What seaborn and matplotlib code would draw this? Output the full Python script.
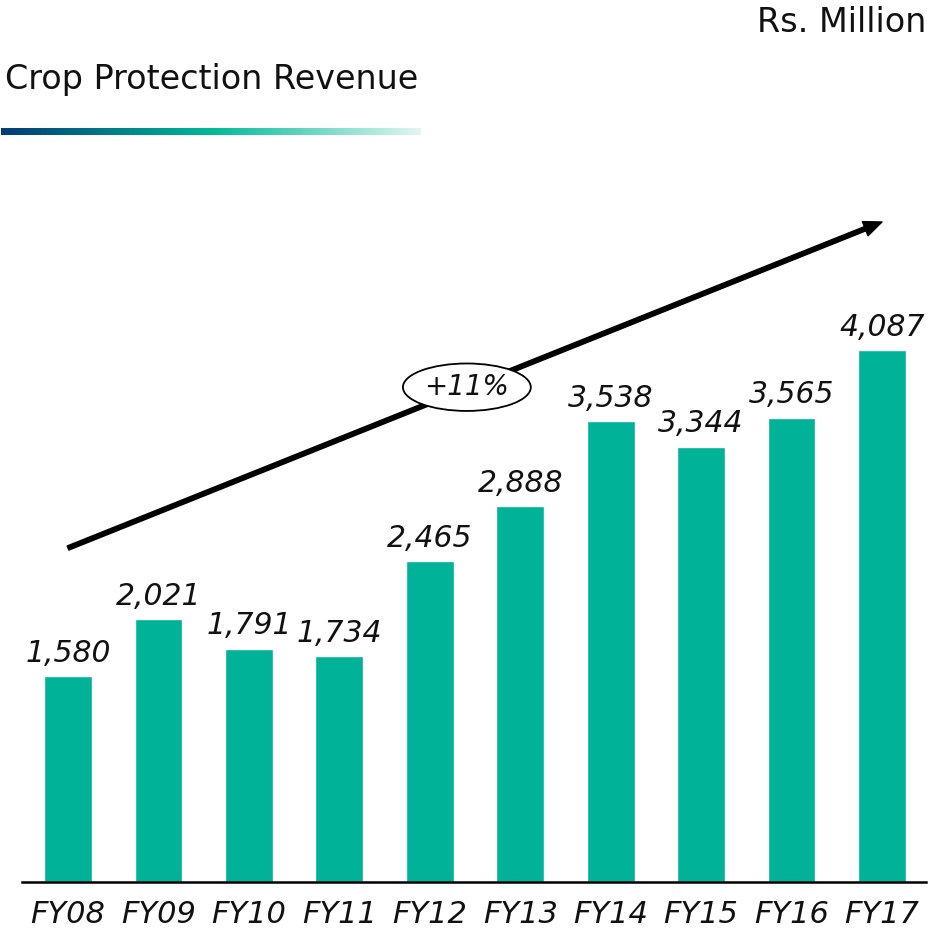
import numpy as np
import pandas as pd
import matplotlib
matplotlib.use("Agg")
import matplotlib.pyplot as plt
import seaborn as sns
from matplotlib.colors import LinearSegmentedColormap

years = ["FY08", "FY09", "FY10", "FY11", "FY12", "FY13", "FY14", "FY15", "FY16", "FY17"]
revenue = [1580, 2021, 1791, 1734, 2465, 2888, 3538, 3344, 3565, 4087]
value_labels = ["1,580", "2,021", "1,791", "1,734", "2,465", "2,888", "3,538", "3,344", "3,565", "4,087"]
title = "Crop Protection Revenue"
unit = "Rs. Million"
cagr = "+11%"

sns.set_theme(style="white")
plt.rcParams['font.family'] = ['DejaVu Sans']

BAR = "#00B398"
W, H = 948, 934
fig = plt.figure(figsize=(W / 100, H / 100), dpi=100)

# main axes
left, right = 22 / W, 926 / W
bottom, top = (H - 882) / H, (H - 160) / H
ax = fig.add_axes([left, bottom, right - left, top - bottom])
df = pd.DataFrame({"year": years, "revenue": revenue})
sns.barplot(data=df, x="year", y="revenue", color=BAR, width=0.53, ax=ax, saturation=1)
ax.set_xlim(-0.509, 9.487)
ax.set_ylim(0, 5545)
for s in ["top", "right", "left"]:
    ax.spines[s].set_visible(False)
ax.spines["bottom"].set_color("black")
ax.spines["bottom"].set_linewidth(1.8)
ax.set_yticks([])
ax.set_xlabel("")
ax.set_ylabel("")
ax.tick_params(axis="x", length=0, pad=13)
for t in ax.get_xticklabels():
    t.set_fontsize(22)
    t.set_style("italic")
    t.set_color("#111111")

for i, (v, lab) in enumerate(zip(revenue, value_labels)):
    ax.annotate(lab, (i, v), xytext=(0, 6), textcoords="offset points",
                ha="center", va="bottom", fontsize=21.5, style="italic", color="#111111")

# trend arrow
ax.annotate("", xy=(9.0, 5069), xytext=(0.0, 2565),
            arrowprops=dict(facecolor="black", edgecolor="black", width=3.2,
                            headwidth=11, headlength=13, shrink=0))
ax.text(4.41, 3800, cagr, ha="center", va="center", fontsize=20, style="italic", color="#111111",
        bbox=dict(boxstyle="ellipse,pad=0.1", fc="white", ec="black", lw=1.3))

# title and unit
fig.text(5 / W, 1 - 80 / H, title, ha="left", va="center", fontsize=24, color="#111111")
fig.text(926 / W, 1 - 22 / H, unit, ha="right", va="center", fontsize=24, color="#111111")

# gradient underline
gax = fig.add_axes([1 / W, 1 - 135 / H, 420 / W, 7 / H])
cmap = LinearSegmentedColormap.from_list("g", [(0, "#003C78"), (0.5, "#00B898"), (1.0, "#E2F6F2")])
gax.imshow(np.linspace(0, 1, 256)[None, :], aspect="auto", cmap=cmap)
gax.axis("off")

fig.savefig("out.png", dpi=100)
